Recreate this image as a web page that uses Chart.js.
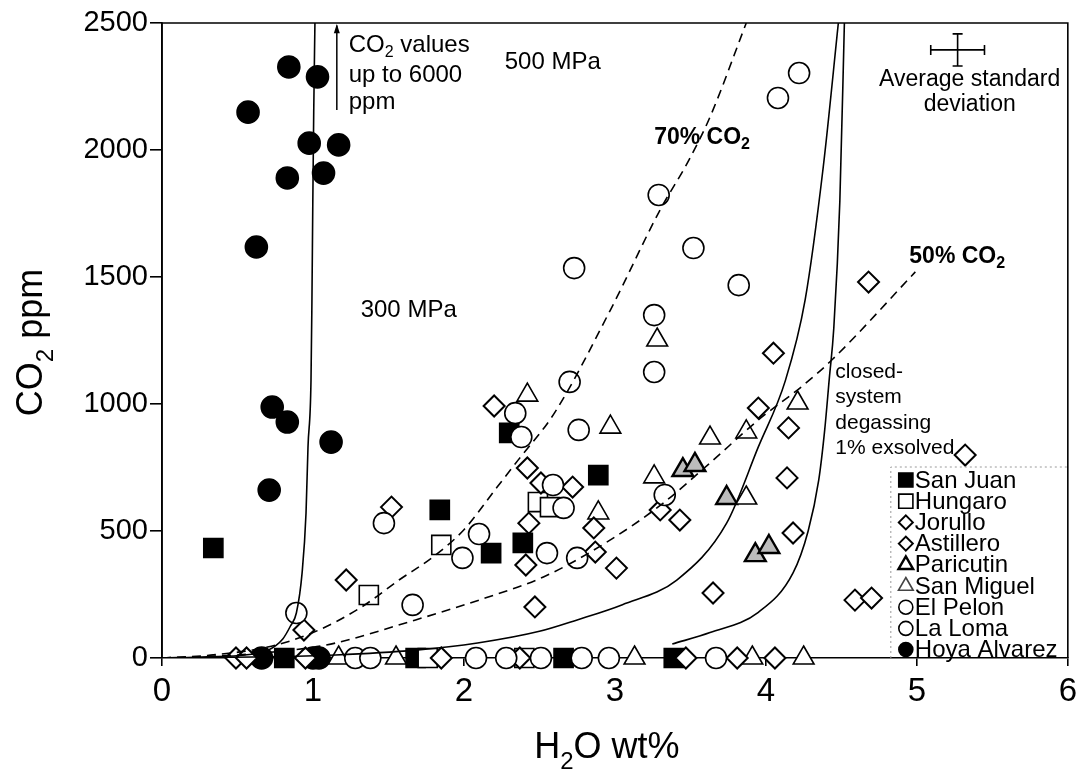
<!DOCTYPE html>
<html>
<head>
<meta charset="utf-8">
<title>H2O - CO2 melt inclusions</title>
<script src="https://cdn.jsdelivr.net/npm/chart.js@4.4.1/dist/chart.umd.min.js"></script>
<style>
html, body { margin: 0; padding: 0; background: #fff; }
</style>
</head>
<body>
<canvas id="plot" width="1083" height="776"></canvas>
<script>
const FONT = '"Liberation Sans", Arial, Helvetica, sans-serif';

// axis ticks
const h2oTicks = [0, 1, 2, 3, 4, 5, 6];
const co2Ticks = [0, 500, 1000, 1500, 2000, 2500];

// melt inclusion analyses: H2O wt% and CO2 ppm
const sanJuanH2O = [0.34, 1.84, 2.18, 2.39, 2.30, 2.89, 0.81, 1.68, 2.66, 3.39];
const sanJuanCO2 = [433, 583, 413, 453, 886, 720, 0, 0, 0, 0];

const hungaroH2O = [1.85, 1.37, 2.49, 2.57, 1.76, 2.40];
const hungaroCO2 = [445, 248, 614, 594, 0, 0];

const jorulloH2O = [1.52, 1.22, 0.94, 2.20, 2.42, 2.72, 2.51, 2.43, 2.41, 2.86, 2.87, 3.01, 2.47, 0.49, 0.56, 0.95, 1.85];
const jorulloCO2 = [594, 307, 110, 992, 748, 673, 689, 531, 366, 512, 417, 354, 201, 0, 0, 0, 0];

const astilleroH2O = [3.30, 3.43, 3.65, 3.95, 4.15, 4.14, 4.18, 4.59, 4.70, 4.68, 5.32, 4.05, 2.37, 3.47, 3.81, 4.06];
const astilleroCO2 = [583, 543, 256, 984, 906, 709, 492, 228, 236, 1480, 799, 1200, 0, 0, 0, 0];

const paricutinH2O = [3.45, 3.53, 3.74, 3.93, 4.02];
const paricutinCO2 = [740, 760, 630, 405, 437];

const sanMiguelH2O = [2.42, 2.97, 3.63, 3.87, 3.26, 2.89, 3.87, 3.28, 4.21, 1.17, 1.55, 3.13, 3.91, 4.25];
const sanMiguelCO2 = [1035, 909, 866, 890, 713, 571, 630, 1252, 1004, 0, 0, 0, 0, 0];

const elPelonH2O = [4.22, 4.08, 3.29, 3.52, 2.73, 3.82, 3.26, 3.26, 2.70, 2.76, 3.33, 2.78, 2.96, 3.67];
const elPelonCO2 = [2303, 2205, 1823, 1614, 1535, 1468, 1350, 1126, 1087, 898, 642, 0, 0, 0];

const laLomaH2O = [2.34, 2.38, 2.59, 2.66, 2.55, 2.75, 2.10, 1.99, 1.66, 1.47, 0.89, 1.28, 1.38, 2.08, 2.28, 2.51];
const laLomaCO2 = [964, 870, 681, 591, 413, 394, 488, 394, 209, 531, 177, 0, 0, 0, 0, 0];

const hoyaH2O = [0.84, 1.03, 0.57, 0.975, 1.17, 0.83, 1.07, 0.625, 0.73, 0.83, 1.12, 0.71, 0.66, 1.00, 1.04];
const hoyaCO2 = [2327, 2288, 2149, 2027, 2020, 1890, 1909, 1618, 988, 929, 850, 661, 0, 0, 0];

// solid model curves
const curveLeftH2O = [0, 0.3, 0.55, 0.7, 0.8, 0.85, 0.89, 0.928, 0.954, 0.967, 0.987, 0.993, 0.999, 1.005, 1.013];
const curveLeftCO2 = [0, 5, 12, 30, 75, 125, 177, 335, 571, 830, 1094, 1400, 1800, 2150, 2500];

const curveMidH2O = [0, 0.6, 1.15, 1.68, 2.09, 2.5, 2.75, 3.05, 3.41, 3.74, 3.95, 4.13, 4.26, 4.38, 4.48];
const curveMidCO2 = [0, 4, 12, 31, 59, 105, 150, 210, 307, 531, 831, 1094, 1410, 1933, 2500];

const curveRightH2O = [3.38, 3.63, 3.95, 4.18, 4.28, 4.35, 4.39, 4.42, 4.45, 4.49, 4.52];
const curveRightCO2 = [55, 100, 180, 335, 500, 700, 900, 1100, 1300, 1800, 2500];

// dashed gas composition curves
const gas70H2O = [0, 0.3, 0.7, 1.0, 1.32, 1.57, 1.8, 2.0, 2.22, 2.36, 2.6, 2.97, 3.3, 3.49, 3.63, 3.87];
const gas70CO2 = [0, 10, 43, 100, 200, 307, 400, 505, 673, 780, 965, 1370, 1765, 1960, 2130, 2500];

const gas50H2O = [0, 0.5, 1.0, 1.15, 1.68, 2.14, 2.53, 2.97, 3.32, 3.63, 3.95, 4.24, 4.44, 4.99];
const gas50CO2 = [0, 12, 42, 59, 150, 236, 320, 465, 610, 768, 937, 1070, 1175, 1520];

function pts(xs, ys) {
  return xs.map((x, i) => ({ x: x, y: ys[i] }));
}

function markers(label, xs, ys, style) {
  return Object.assign({
    type: 'scatter',
    label: label,
    data: pts(xs, ys),
    clip: false,
    pointBorderColor: '#000',
    pointBackgroundColor: '#fff',
    pointBorderWidth: 1.6
  }, style);
}

function curve(xs, ys, dash) {
  return {
    type: 'line',
    data: pts(xs, ys),
    borderColor: '#000',
    borderWidth: 1.6,
    borderDash: dash || [],
    pointRadius: 0,
    fill: false,
    cubicInterpolationMode: 'monotone'
  };
}

const datasets = [
  curve(curveLeftH2O, curveLeftCO2),
  curve(curveMidH2O, curveMidCO2),
  curve(curveRightH2O, curveRightCO2),
  curve(gas70H2O, gas70CO2, [9, 6]),
  curve(gas50H2O, gas50CO2, [9, 6]),
  markers('El Pelon', elPelonH2O, elPelonCO2, { pointStyle: 'circle', pointRadius: 10.5 }),
  markers('La Loma', laLomaH2O, laLomaCO2, { pointStyle: 'circle', pointRadius: 10.5 }),
  markers('Jorullo', jorulloH2O, jorulloCO2, { pointStyle: 'rectRot', pointRadius: 10.5, pointBorderWidth: 2 }),
  markers('Astillero', astilleroH2O, astilleroCO2, { pointStyle: 'rectRot', pointRadius: 10.5, pointBorderWidth: 2 }),
  markers('San Miguel', sanMiguelH2O, sanMiguelCO2, { pointStyle: 'triangle', pointRadius: 12 }),
  markers('Paricutin', paricutinH2O, paricutinCO2, { pointStyle: 'triangle', pointRadius: 12, pointBackgroundColor: '#bcbcbc', pointBorderWidth: 2.4 }),
  markers('Hungaro', hungaroH2O, hungaroCO2, { pointStyle: 'rect', pointRadius: 13.5 }),
  markers('San Juan', sanJuanH2O, sanJuanCO2, { pointStyle: 'rect', pointRadius: 13.5, pointBackgroundColor: '#000' }),
  markers('Hoya Alvarez', hoyaH2O, hoyaCO2, { pointStyle: 'circle', pointRadius: 11, pointBackgroundColor: '#000' })
];

const legendOrder = ['San Juan', 'Hungaro', 'Jorullo', 'Astillero', 'Paricutin', 'San Miguel', 'El Pelon', 'La Loma', 'Hoya Alvarez'];

// text with '_' prefixed pieces set as subscripts
function richText(ctx, parts, x, y, size, weight, align) {
  const big = weight + ' ' + size + 'px ' + FONT;
  const small = weight + ' ' + Math.round(size * 0.68) + 'px ' + FONT;
  const pieces = parts.map(p => {
    const sub = p[0] === '_';
    const t = sub ? p.slice(1) : p;
    ctx.font = sub ? small : big;
    return { t: t, sub: sub, w: ctx.measureText(t).width };
  });
  const total = pieces.reduce((s, p) => s + p.w, 0);
  let cx = align === 'center' ? x - total / 2 : x;
  ctx.textAlign = 'left';
  pieces.forEach(p => {
    ctx.font = p.sub ? small : big;
    ctx.fillText(p.t, cx, p.sub ? y + size * 0.3 : y);
    cx += p.w;
  });
}

// box round the plot area
const frame = {
  id: 'frame',
  beforeDatasetsDraw(chart) {
    const { ctx, chartArea: a } = chart;
    ctx.save();
    ctx.strokeStyle = '#000';
    ctx.lineWidth = 1.6;
    ctx.beginPath();
    ctx.moveTo(a.left, a.bottom);
    ctx.lineTo(a.left, a.top);
    ctx.lineTo(a.right, a.top);
    ctx.lineTo(a.right, a.bottom);
    ctx.stroke();
    ctx.restore();
  }
};

// axis titles and labels inside the plot
const notes = {
  id: 'notes',
  afterDraw(chart) {
    const { ctx, chartArea: a } = chart;
    const sx = chart.scales.x, sy = chart.scales.y;
    const px = v => sx.getPixelForValue(v);
    const py = v => sy.getPixelForValue(v);
    ctx.save();
    ctx.fillStyle = '#000';
    ctx.textBaseline = 'alphabetic';

    richText(ctx, ['H', '_2', 'O wt%'], (a.left + a.right) / 2 - 8, 758, 36, 'normal', 'center');

    ctx.save();
    ctx.translate(42, (a.top + a.bottom) / 2 + 2);
    ctx.rotate(-Math.PI / 2);
    richText(ctx, ['CO', '_2', ' ppm'], 0, 0, 36, 'normal', 'center');
    ctx.restore();

    ctx.textBaseline = 'middle';
    richText(ctx, ['500 MPa'], px(2.27), py(2346), 24, 'normal', 'left');
    richText(ctx, ['300 MPa'], px(1.316), py(1370), 24, 'normal', 'left');
    richText(ctx, ['70% CO', '_2'], px(3.26), py(2047), 23, 'bold', 'left');
    richText(ctx, ['50% CO', '_2'], px(4.95), py(1579), 23, 'bold', 'left');

    richText(ctx, ['CO', '_2', ' values'], px(1.237), py(2413), 24, 'normal', 'left');
    richText(ctx, ['up to 6000'], px(1.237), py(2295), 24, 'normal', 'left');
    richText(ctx, ['ppm'], px(1.237), py(2189), 24, 'normal', 'left');

    // arrow pointing off the top of the scale
    const ax = px(1.158);
    ctx.strokeStyle = '#000';
    ctx.lineWidth = 1.5;
    ctx.beginPath();
    ctx.moveTo(ax, py(2157));
    ctx.lineTo(ax, py(2490));
    ctx.stroke();
    ctx.beginPath();
    ctx.moveTo(ax, py(2496));
    ctx.lineTo(ax - 3, py(2460));
    ctx.lineTo(ax + 3, py(2460));
    ctx.closePath();
    ctx.fill();

    ['closed-', 'system', 'degassing', '1% exsolved'].forEach((t, i) => {
      richText(ctx, [t], px(4.46), py(1126 - i * 100), 21, 'normal', 'left');
    });

    richText(ctx, ['Average standard'], px(5.35), py(2276), 23, 'normal', 'center');
    richText(ctx, ['deviation'], px(5.35), py(2177), 23, 'normal', 'center');

    // average standard deviation cross
    const cx = 5.27, cy = 2394, dx = 0.178, dy = 63;
    ctx.lineWidth = 1.6;
    ctx.beginPath();
    ctx.moveTo(px(cx - dx), py(cy));
    ctx.lineTo(px(cx + dx), py(cy));
    ctx.moveTo(px(cx), py(cy - dy));
    ctx.lineTo(px(cx), py(cy + dy));
    ctx.moveTo(px(cx - dx), py(cy) - 5);
    ctx.lineTo(px(cx - dx), py(cy) + 5);
    ctx.moveTo(px(cx + dx), py(cy) - 5);
    ctx.lineTo(px(cx + dx), py(cy) + 5);
    ctx.moveTo(px(cx) - 5, py(cy - dy));
    ctx.lineTo(px(cx) + 5, py(cy - dy));
    ctx.moveTo(px(cx) - 5, py(cy + dy));
    ctx.lineTo(px(cx) + 5, py(cy + dy));
    ctx.stroke();
    ctx.restore();
  }
};

// symbol key in the lower right corner (open symbols shown for the triangles)
const keyBox = {
  id: 'keyBox',
  afterDraw(chart) {
    const { ctx, chartArea: a } = chart;
    const left = a.right - 177, top = a.bottom - 191;
    ctx.save();
    ctx.strokeStyle = '#999';
    ctx.lineWidth = 1;
    ctx.setLineDash([2, 3]);
    ctx.beginPath();
    ctx.moveTo(left, a.bottom);
    ctx.lineTo(left, top);
    ctx.lineTo(a.right, top);
    ctx.stroke();
    ctx.setLineDash([]);

    legendOrder.forEach((name, i) => {
      const ds = chart.data.datasets.find(d => d.label === name);
      const y = top + 13 + i * 21.2;
      const mx = left + 15;
      ctx.fillStyle = ds.pointStyle === 'triangle' ? '#fff' : ds.pointBackgroundColor;
      ctx.strokeStyle = name === 'San Miguel' ? '#444' : '#000';
      ctx.lineWidth = ds.pointBorderWidth;
      const r = ds.pointStyle === 'rect' ? 10 : (ds.pointStyle === 'triangle' ? 8.5 : 7);
      Chart.helpers.drawPoint(ctx, { pointStyle: ds.pointStyle, radius: r, rotation: 0, borderWidth: ds.pointBorderWidth }, mx, y);
      ctx.fillStyle = '#000';
      ctx.textBaseline = 'middle';
      richText(ctx, [name], mx + 9, y + 1, 24, 'normal', 'left');
    });
    ctx.restore();
  }
};

const config = {
  type: 'scatter',
  data: { datasets: datasets },
  options: {
    responsive: false,
    animation: false,
    events: [],
    layout: { padding: { top: 23, right: 9, left: 0, bottom: 0 } },
    plugins: { legend: { display: false }, tooltip: { enabled: false } },
    scales: {
      x: {
        type: 'linear',
        min: h2oTicks[0],
        max: h2oTicks[h2oTicks.length - 1],
        afterBuildTicks: s => { s.ticks = h2oTicks.map(v => ({ value: v })); },
        afterFit: s => { s.height = 118; },
        grid: { drawOnChartArea: false, color: '#000', lineWidth: 1.6, tickLength: 8 },
        border: { color: '#000', width: 1.6 },
        ticks: { color: '#000', padding: 6, maxRotation: 0, font: { family: FONT, size: 33 }, callback: v => String(v) }
      },
      y: {
        type: 'linear',
        min: co2Ticks[0],
        max: co2Ticks[co2Ticks.length - 1],
        afterBuildTicks: s => { s.ticks = co2Ticks.map(v => ({ value: v })); },
        afterFit: s => { s.width = 162; },
        grid: { drawOnChartArea: false, color: '#000', lineWidth: 1.6, tickLength: 12 },
        border: { color: '#000', width: 1.6 },
        ticks: { color: '#000', padding: 2, font: { family: FONT, size: 29 }, callback: v => String(v) }
      }
    }
  },
  plugins: [frame, notes, keyBox]
};

let ctx = document.getElementById('plot').getContext('2d');
let chart = new Chart(ctx, config);
</script>
</body>
</html>
